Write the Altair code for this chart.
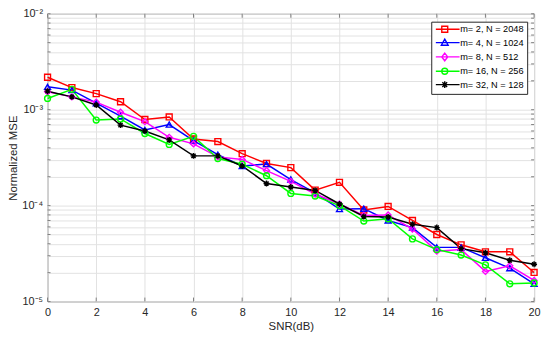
import altair as alt
import pandas as pd

snr = list(range(21))
series_names = ["m= 2, N = 2048", "m= 4, N = 1024", "m= 8, N = 512", "m= 16, N = 256", "m= 32, N = 128"]
red = [2.18e-3, 1.70e-3, 1.47e-3, 1.21e-3, 7.9e-4, 8.4e-4, 4.95e-4, 4.65e-4, 3.48e-4, 2.75e-4, 2.49e-4,
       1.45e-4, 1.75e-4, 9.0e-5, 9.8e-5, 7.0e-5, 5.0e-5, 3.9e-5, 3.3e-5, 3.3e-5, 2.01e-5]
blue = [1.73e-3, 1.6e-3, 1.17e-3, 8.55e-4, 6.16e-4, 7.0e-4, 4.76e-4, 3.4e-4, 2.59e-4, 2.71e-4, 1.87e-4,
        1.36e-4, 9.2e-5, 9.3e-5, 7.0e-5, 5.9e-5, 3.67e-5, 3.67e-5, 2.86e-5, 2.23e-5, 1.53e-5]
magenta = [1.54e-3, 1.36e-3, 1.2e-3, 9.4e-4, 7.5e-4, 5.15e-4, 4.4e-4, 3.22e-4, 3.03e-4, 2.32e-4, 1.79e-4,
           1.32e-4, 1.04e-4, 7.9e-5, 8.0e-5, 5.7e-5, 3.35e-5, 3.48e-5, 2.06e-5, 2.36e-5, 1.66e-5]
green = [1.31e-3, 1.63e-3, 7.8e-4, 8.0e-4, 5.65e-4, 4.34e-4, 5.27e-4, 3.1e-4, 2.7e-4, 2.05e-4, 1.34e-4,
         1.26e-4, 1.0e-4, 6.9e-5, 7.3e-5, 4.5e-5, 3.48e-5, 3.05e-5, 2.41e-5, 1.53e-5, 1.56e-5]
black = [1.56e-3, 1.36e-3, 1.12e-3, 6.9e-4, 6.0e-4, 4.84e-4, 3.3e-4, 3.3e-4, 2.59e-4, 1.7e-4, 1.56e-4,
         1.44e-4, 1.04e-4, 7.7e-5, 7.6e-5, 6.4e-5, 5.9e-5, 3.56e-5, 3.22e-5, 2.69e-5, 2.45e-5]

x_grid = [i * 0.5 for i in range(41)]
x_major = list(range(0, 21, 2))
y_grid = [m * 10.0 ** e for e in (-5, -4, -3) for m in range(1, 10)] + [1e-2]

colors = ["#FF0000", "#0000FF", "#FF00FF", "#00FF00", "#000000"]
plot_shapes = [
    "square",
    "triangle-up",
    "diamond",
    "circle",
    "M-1,0H1M0,-1V1M-0.7,-0.7L0.7,0.7M-0.7,0.7L0.7,-0.7",
]
legend_paths = [
    "M-1,0H7M1,-1H3V1H1Z",
    "M-1,0H7M2,-1.15L3.15,0.9H0.85Z",
    "M-1,0H7M2,-1.3L3,0L2,1.3L1,0Z",
    "M-1,0H7M1,0A1,1 0 1,0 3,0A1,1 0 1,0 1,0Z",
    "M-1,0H7M2,-1.1V1.1M1.2,-0.8L2.8,0.8M1.2,0.8L2.8,-0.8",
]

W = 492
H = 291

rows = []
for name, vals in zip(series_names, [red, blue, magenta, green, black]):
    for s, v in zip(snr, vals):
        rows.append({"snr": s, "mse": v, "series": name})
df = pd.DataFrame(rows)
xt_df = pd.DataFrame({"snr": x_major})
yt_df = pd.DataFrame({"mse": y_grid})

y_label_expr = (
    "abs(log(datum.value)/LN10 - round(log(datum.value)/LN10)) > 0.001 ? '' : "
    "round(log(datum.value)/LN10) == -2 ? '10⁻²' : "
    "round(log(datum.value)/LN10) == -3 ? '10⁻³' : "
    "round(log(datum.value)/LN10) == -4 ? '10⁻⁴' : '10⁻⁵'"
)

x_enc = alt.X(
    "snr:Q",
    scale=alt.Scale(domain=[0, 20], nice=False),
    axis=alt.Axis(
        values=x_grid,
        labelExpr="datum.value % 2 == 0 ? datum.label : ''",
        title="SNR(dB)",
        grid=True,
        ticks=False,
        domain=False,
        labelFlush=False,
        labelPadding=5,
        titlePadding=3,
    ),
)
y_enc = alt.Y(
    "mse:Q",
    scale=alt.Scale(type="log", domain=[1e-5, 1e-2], nice=False),
    axis=alt.Axis(
        values=y_grid,
        labelExpr=y_label_expr,
        title="Normalized MSE",
        grid=True,
        ticks=False,
        domain=False,
        labelOverlap=False,
        labelPadding=5,
        titlePadding=3,
    ),
)
color_scale = alt.Scale(domain=series_names, range=colors)

base = alt.Chart(df)

legend_props = dict(
    title=None,
    orient="none",
    legendX=388,
    legendY=8,
    fillColor="white",
    strokeColor="#262626",
    padding=3,
    symbolSize=36,
    symbolStrokeWidth=1.4,
    symbolOpacity=1,
    labelOffset=17,
    labelFontSize=9.3,
    labelColor="#000000",
    rowPadding=0.5,
)

legend_layer = base.mark_point(filled=False, opacity=0, size=36).encode(
    x=x_enc,
    y=y_enc,
    color=alt.Color("series:N", scale=color_scale, sort=series_names, legend=alt.Legend(**legend_props)),
    shape=alt.Shape("series:N", scale=alt.Scale(domain=series_names, range=legend_paths), sort=series_names,
                    legend=alt.Legend(**legend_props)),
)

tick_color = "#808080"
bottom_ticks = alt.Chart(xt_df).mark_rule(color=tick_color, strokeWidth=1).encode(
    x="snr:Q", y=alt.value(H), y2=alt.value(H - 4))
top_ticks = alt.Chart(xt_df).mark_rule(color=tick_color, strokeWidth=1).encode(
    x="snr:Q", y=alt.value(0), y2=alt.value(4))
left_ticks = alt.Chart(yt_df).mark_rule(color=tick_color, strokeWidth=1).encode(
    y="mse:Q", x=alt.value(0), x2=alt.value(3))
right_ticks = alt.Chart(yt_df).mark_rule(color=tick_color, strokeWidth=1).encode(
    y="mse:Q", x=alt.value(W), x2=alt.value(W - 3))

lines = base.mark_line(strokeWidth=1.5).encode(
    x="snr:Q",
    y="mse:Q",
    color=alt.Color("series:N", scale=color_scale, legend=None),
)

marker_layers = []
for name, shp in zip(series_names, plot_shapes):
    marker_layers.append(
        base.transform_filter(alt.datum.series == name)
        .mark_point(filled=False, strokeWidth=1.4, size=36, opacity=1, shape=shp)
        .encode(
            x="snr:Q",
            y="mse:Q",
            color=alt.Color("series:N", scale=color_scale, legend=None),
        )
    )

chart = (
    alt.layer(legend_layer, bottom_ticks, top_ticks, left_ticks, right_ticks, lines, *marker_layers)
    .properties(
        width=W,
        height=H,
        autosize=alt.AutoSizeParams(type="none"),
        padding={"left": 40, "top": 4, "right": 8, "bottom": 31},
    )
    .configure(font="Liberation Sans")
    .configure_view(stroke="#808080", strokeWidth=1)
    .configure_axis(
        gridColor="#e2e2e2",
        gridWidth=1,
        gridOpacity=1,
        labelFontSize=11,
        labelColor="#262626",
        titleFontSize=11.5,
        titleFontWeight="normal",
        titleColor="#262626",
    )
)

chart.save("out.html", embed_options={"renderer": "svg", "actions": False})
